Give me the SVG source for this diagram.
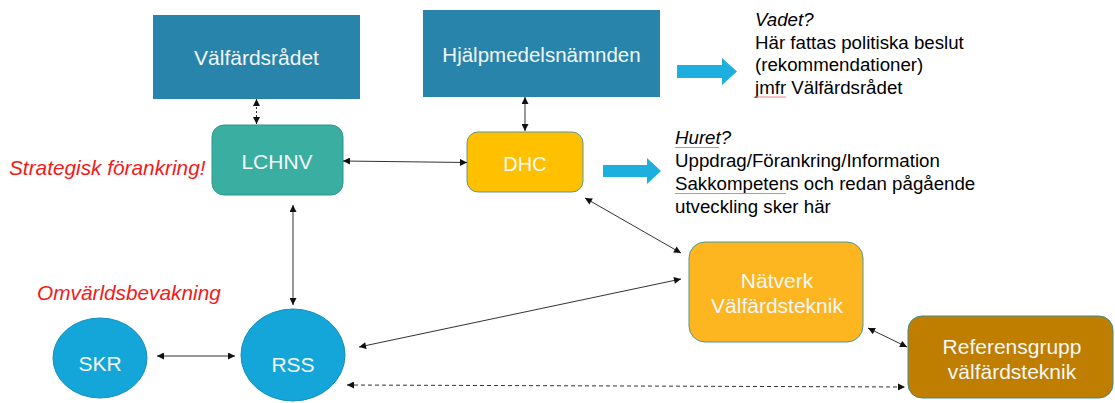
<svg xmlns="http://www.w3.org/2000/svg" width="1115" height="403" viewBox="0 0 1115 403">
<defs>
<style>
.lbl{font-family:"Liberation Sans",Arial,sans-serif;fill:#F2F7FA;text-anchor:middle;font-size:21px}
.txt{font-family:"Liberation Sans",Arial,sans-serif;fill:#000;font-size:18.7px}
.red{font-family:"Liberation Sans",Arial,sans-serif;fill:#F21A1A;font-size:20.8px;font-style:italic}
.con{fill:none;stroke:#333;stroke-width:1}
.sp{stroke:#E8828A;stroke-width:1;fill:none}
</style>
<marker id="ah" viewBox="0 0 10 10" refX="10" refY="5" markerWidth="8" markerHeight="7" markerUnits="userSpaceOnUse" orient="auto-start-reverse">
<path d="M0,0 L10,5 L0,10 Z" fill="#111"/>
</marker>
</defs>
<rect width="1115" height="403" fill="#fff"/>

<g id="valfardsradet">
<rect x="153" y="15" width="207" height="84" fill="#2884AA"/>
<text class="lbl" x="256.5" y="64.5">Välfärdsrådet</text>
</g>
<g id="hjalpmedelsnamnden">
<rect x="423" y="10" width="237" height="87" fill="#2884AA"/>
<text class="lbl" x="541.5" y="61.5" style="font-size:20.5px">Hjälpmedelsnämnden</text>
</g>
<g id="lchnv">
<rect x="212" y="125" width="131" height="70" rx="12" fill="#3AAEA1" stroke="#2D958A" stroke-width="1"/>
<text class="lbl" x="277" y="169">LCHNV</text>
</g>
<g id="dhc">
<rect x="467" y="132" width="116" height="60" rx="11" fill="#FFC000" stroke="#5E9690" stroke-width="1"/>
<text class="lbl" x="525" y="170.5" style="font-size:20px">DHC</text>
</g>
<g id="natverk">
<rect x="689" y="242" width="174" height="100" rx="16" fill="#FDB520" stroke="#4F9A93" stroke-width="1"/>
<text class="lbl" x="777" y="287.5">Nätverk</text>
<text class="lbl" x="777" y="312.5">Välfärdsteknik</text>
</g>
<g id="referensgrupp">
<rect x="908" y="316" width="205" height="82" rx="14" fill="#BF7E00" stroke="#3F8C88" stroke-width="1"/>
<text class="lbl" x="1012" y="354">Referensgrupp</text>
<text class="lbl" x="1012" y="379">välfärdsteknik</text>
</g>
<g id="skr">
<ellipse cx="100" cy="358" rx="47" ry="40" fill="#14A6D8" stroke="#1590BE" stroke-width="1"/>
<text class="lbl" x="100" y="370.5">SKR</text>
</g>
<g id="rss">
<ellipse cx="293" cy="355" rx="52" ry="46" fill="#14A6D8" stroke="#1590BE" stroke-width="1"/>
<text class="lbl" x="293" y="372">RSS</text>
</g>

<g id="labels">
<text class="red" x="9" y="175">Strategisk förankring!</text>
<text class="red" x="37" y="300">Omvärldsbevakning</text>
<text class="txt" x="755" y="26" font-style="italic">Vadet?</text>
<text class="txt" x="755" y="48.5">Här fattas politiska beslut</text>
<text class="txt" x="755" y="71">(rekommendationer)</text>
<text class="txt" x="755" y="93.5">jmfr Välfärdsrådet</text>
<path class="sp" d="M755,97 H786"/>
<text class="txt" x="675" y="144" font-style="italic">Huret?</text>
<text class="txt" x="675" y="167">Uppdrag/Förankring/Information</text>
<text class="txt" x="675" y="190">Sakkompetens och redan pågående</text>
<text class="txt" x="675" y="213">utveckling sker här</text>
<path class="sp" d="M675,147.5 H719 M675,193.5 H786"/>
</g>

<g id="block-arrows" fill="#1DB0DE">
<path d="M677,65 H722 V58 L737,71.5 L722,85 V78 H677 Z"/>
<path d="M603,165 H647 V158 L661,171 L647,184 V177 H603 Z"/>
</g>

<g id="connectors">
<line class="con" x1="256.5" y1="99" x2="256.5" y2="124" stroke-dasharray="2,2" marker-start="url(#ah)" marker-end="url(#ah)"/>
<line class="con" x1="525" y1="97" x2="525" y2="131" stroke="#777" marker-start="url(#ah)" marker-end="url(#ah)"/>
<line class="con" x1="343" y1="161" x2="467" y2="162.5" stroke="#555" marker-start="url(#ah)" marker-end="url(#ah)"/>
<line class="con" x1="293" y1="205" x2="293" y2="305" marker-start="url(#ah)" marker-end="url(#ah)"/>
<line class="con" x1="157" y1="356" x2="235" y2="356" marker-start="url(#ah)" marker-end="url(#ah)"/>
<line class="con" x1="585" y1="198" x2="681" y2="253" stroke="#666" marker-start="url(#ah)" marker-end="url(#ah)"/>
<line class="con" x1="359" y1="347" x2="681" y2="279" stroke-width="1.5" stroke="#222" marker-start="url(#ah)" marker-end="url(#ah)"/>
<line class="con" x1="868" y1="328" x2="907" y2="347" marker-start="url(#ah)" marker-end="url(#ah)"/>
<line class="con" x1="347" y1="385" x2="905" y2="387" stroke="#888" stroke-dasharray="4,3" marker-start="url(#ah)" marker-end="url(#ah)"/>
</g>
</svg>
